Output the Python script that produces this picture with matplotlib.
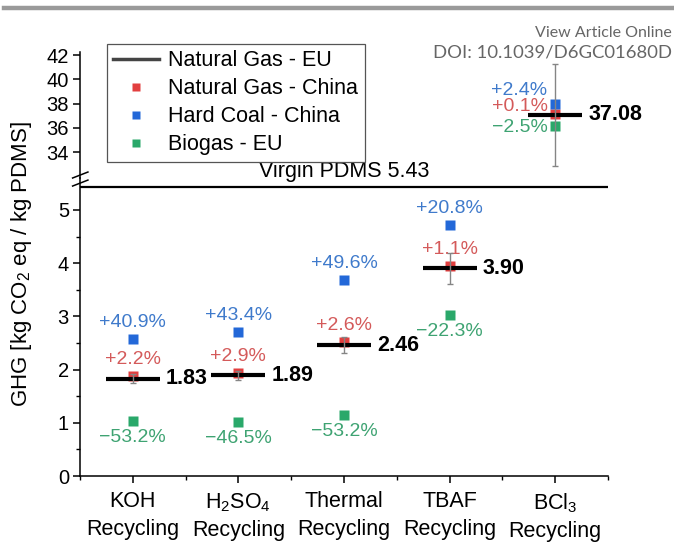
import matplotlib
matplotlib.use("Agg")
import matplotlib.pyplot as plt
from matplotlib.lines import Line2D
import numpy as np

plt.rcParams['font.family'] = ['Liberation Sans', 'DejaVu Sans']
plt.rcParams['mathtext.fontset'] = 'custom'
plt.rcParams['mathtext.rm'] = 'Liberation Sans'
plt.rcParams['mathtext.it'] = 'Liberation Sans:italic'
plt.rcParams['mathtext.bf'] = 'Liberation Sans:bold'

# recycling routes and GHG results (kg CO2 eq / kg PDMS)
routes = ['KOH\nRecycling', 'H$_2$SO$_4$\nRecycling', 'Thermal\nRecycling',
          'TBAF\nRecycling', 'BCl$_3$\nRecycling']
gas_eu = [1.83, 1.89, 2.46, 3.90, 37.08]
gas_eu_err = [0.08, 0.09, 0.15, 0.30, 4.2]
gas_china = [1.87, 1.94, 2.52, 3.94, 37.12]
coal_china = [2.58, 2.71, 3.68, 4.71, 37.97]
biogas_eu = [1.03, 1.01, 1.15, 3.03, 36.15]
gas_china_txt = ['+2.2%', '+2.9%', '+2.6%', '+1.1%', '+0.1%']
coal_china_txt = ['+40.9%', '+43.4%', '+49.6%', '+20.8%', '+2.4%']
biogas_eu_txt = ['\u221253.2%', '\u221246.5%', '\u221253.2%', '\u221222.3%', '\u22122.5%']
virgin_pdms = 5.43

red, blue, green = '#e23f3f', '#2368d8', '#2aa86a'
red_t, blue_t, green_t = '#d45a5a', '#3f7acb', '#3ea372'

fig = plt.figure(figsize=(6.74, 5.42), dpi=100)
left, width = 80 / 674, 528 / 674
ax = fig.add_axes([left, 1 - 476 / 542, width, 298 / 542])
ax_top = fig.add_axes([left, 1 - 178 / 542, width, 126 / 542])
ax_top.patch.set_visible(False)

x = np.arange(1, len(routes) + 1)
half = 0.255

for a in (ax, ax_top):
    a.set_xlim(0.5, 5.5)
    a.spines['top'].set_visible(False)
    a.spines['right'].set_visible(False)
    a.spines['left'].set_linewidth(1.1)
    a.spines['bottom'].set_linewidth(1.1)
    a.tick_params(direction='out', length=5, width=1.1, labelsize=14.5, pad=3)
    a.tick_params(which='minor', direction='out', length=3, width=1.0)

ax.set_ylim(0, 5.60)
ax_top.set_ylim(31.86, 42.25)
ax_top.spines['bottom'].set_visible(False)
ax_top.set_xticks([])
ax_top.set_yticks([34, 36, 38, 40, 42])

ax.set_yticks([0, 1, 2, 3, 4, 5])
ax.set_yticks(np.arange(0.5, 5.5, 1.0), minor=True)
ax.set_xticks(x)
ax.set_xticks(np.arange(0.5, 6.0, 1.0), minor=True)
ax.set_xticklabels(routes, fontsize=15.5, linespacing=1.4)
ax.tick_params(axis='x', pad=6)

for i in range(len(routes)):
    a = ax_top if i == 4 else ax
    xi = x[i]
    a.hlines(gas_eu[i], xi - half, xi + half, color='black', lw=3.0, zorder=3)
    a.errorbar(xi, gas_eu[i], yerr=gas_eu_err[i], fmt='none', ecolor='#858585',
               elinewidth=1.0, capsize=2.5, capthick=1.0, zorder=4)
    a.plot(xi, gas_china[i], 's', color=red, ms=6.5, mec='none', zorder=2)
    a.plot(xi, coal_china[i], 's', color=blue, ms=6.5, mec='none', zorder=3)
    a.plot(xi, biogas_eu[i], 's', color=green, ms=6.5, mec='none', zorder=3)
    a.annotate('%.2f' % gas_eu[i], (xi + half, gas_eu[i]), xytext=(4.3, 0),
               textcoords='offset points', ha='left', va='center',
               fontsize=15.5, fontweight='bold', zorder=5)
    if i < 4:
        a.annotate(coal_china_txt[i], (xi, coal_china[i]), xytext=(0, 12),
                   textcoords='offset points', ha='center', va='center',
                   fontsize=14, color=blue_t)
        a.annotate(gas_china_txt[i], (xi, gas_china[i]), xytext=(0, 12),
                   textcoords='offset points', ha='center', va='center',
                   fontsize=14, color=red_t)
        a.annotate(biogas_eu_txt[i], (xi, biogas_eu[i]), xytext=(0, -12),
                   textcoords='offset points', ha='center', va='center',
                   fontsize=14, color=green_t)
    else:
        a.annotate(coal_china_txt[i], (xi, coal_china[i]), xytext=(-5.5, 10),
                   textcoords='offset points', ha='right', va='center',
                   fontsize=14, color=blue_t, zorder=1)
        a.annotate(gas_china_txt[i], (xi, gas_china[i]), xytext=(-5.5, 5.8),
                   textcoords='offset points', ha='right', va='center',
                   fontsize=14, color=red_t, zorder=1)
        a.annotate(biogas_eu_txt[i], (xi, biogas_eu[i]), xytext=(-5.5, -1.4),
                   textcoords='offset points', ha='right', va='center',
                   fontsize=14, color=green_t, zorder=1)

# virgin PDMS reference line
ax.axhline(virgin_pdms, color='black', lw=1.6, zorder=1)
ax.annotate('Virgin PDMS %.2f' % virgin_pdms, (3, virgin_pdms), xytext=(0, 3.5),
            textcoords='offset points', ha='center', va='bottom', fontsize=15.5,
            annotation_clip=False)

# break marks on the y axis
for y0 in (0.973, 1.0):
    ax.add_line(Line2D([-0.014, 0.015], [y0, y0 + 0.02], transform=ax.transAxes,
                       color='black', lw=1.1, clip_on=False))

fig.text(22 / 674, 1 - 264 / 542, 'GHG [kg CO$_2$ eq / kg PDMS]', rotation=90,
         ha='center', va='center', fontsize=16)

handles = [Line2D([], [], color='#444444', lw=2.5),
           Line2D([], [], ls='none', marker='s', color=red, ms=6, mec='none'),
           Line2D([], [], ls='none', marker='s', color=blue, ms=6, mec='none'),
           Line2D([], [], ls='none', marker='s', color=green, ms=6, mec='none')]
names = ['Natural Gas - EU', 'Natural Gas - China', 'Hard Coal - China', 'Biogas - EU']
leg = fig.legend(handles, names, loc='upper left', bbox_to_anchor=(107 / 674, 1 - 44 / 542),
                 borderaxespad=0, fontsize=15.5, frameon=True, fancybox=False,
                 edgecolor='#555555', framealpha=1, handlelength=2.1,
                 handletextpad=0.45, labelspacing=0.32, borderpad=0.3)
leg.get_frame().set_linewidth(0.9)

# page header
fig.add_artist(Line2D([4 / 674, 1], [1 - 8 / 542, 1 - 8 / 542], color='#9a9a9a', lw=3.2))
fig.text(672 / 674, 1 - 33 / 542, 'View Article Online', ha='right', va='center',
         fontsize=11.5, color='#666666', family='Lato')
fig.text(672 / 674, 1 - 53 / 542, 'DOI: 10.1039/D6GC01680D', ha='right', va='center',
         fontsize=13.3, color='#666666', family='Lato')

fig.savefig('out.png', dpi=100)
